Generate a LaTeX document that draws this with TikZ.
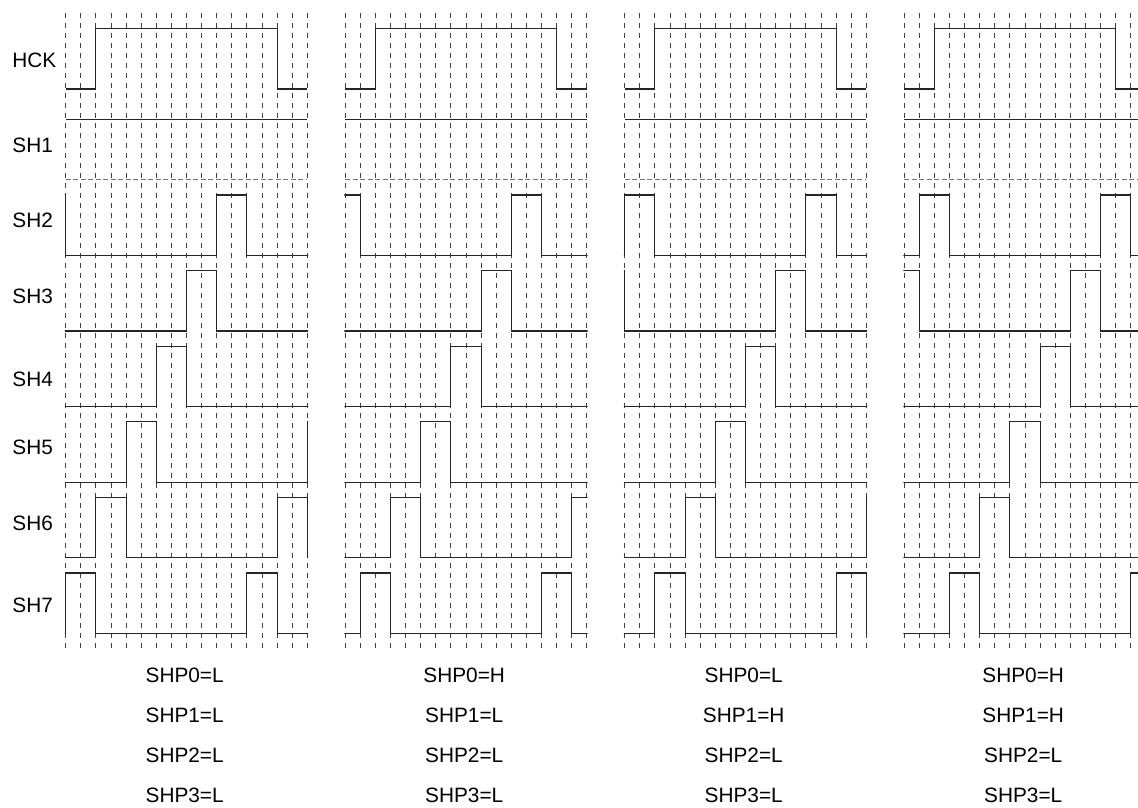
\documentclass[tikz,border=0pt]{standalone}
\usepackage{fontspec}
\setmainfont{Liberation Sans}
\tikzset{
  gridline/.style={black!75,line width=0.45pt,dash pattern=on 2.25pt off 2.75pt},
  sig/.style={black!85,line width=0.55pt},
  lowdash/.style={black!55,line width=0.5pt,dash pattern=on 2.5pt off 1.25pt},
  lbl/.style={inner sep=0pt,font=\fontsize{10.4}{12}\selectfont}
}
\begin{document}
\begin{tikzpicture}[x=0.5pt,y=-0.5pt]
  \useasboundingbox (0,0) rectangle (1138,807);
  \clip (0,0) rectangle (1138,807);
  \node[lbl,anchor=west] (hck) at (12,60.8) {HCK}; \node[lbl,anchor=west] (sh1) at (12,145.7) {SH1};
  \node[lbl,anchor=west] (sh2) at (12,220.5) {SH2}; \node[lbl,anchor=west] (sh3) at (12,296.7) {SH3};
  \node[lbl,anchor=west] (sh4) at (12,379.5) {SH4}; \node[lbl,anchor=west] (sh5) at (12,447.5) {SH5};
  \node[lbl,anchor=west] (sh6) at (12,523) {SH6}; \node[lbl,anchor=west] (sh7) at (12,605.5) {SH7};
  \foreach \p/\a/\b in {0/L/L,1/H/L,2/L/H,3/H/H}{
    \begin{scope}[xshift={32.85pt+139.75pt*\p},x=7.55pt]
      \foreach \i in {0,...,16} \draw[gridline] (\i,13.3) -- (\i,648);
      \draw[sig] (0,89) -- (2,89) -- (2,28.3) -- (14,28.3) -- (14,89) -- (16,89);
      \draw[sig] (0,119.4) -- (16,119.4); \draw[lowdash] (0,179.8) -- (16,179.8);
      \begin{scope}
        \clip (-0.05,0) rectangle (16.05,807);
        \foreach \k in {2,...,7}{
          \pgfmathsetmacro\yhi{195+75.6*(\k-2)}
          \pgfmathsetmacro\ylo{\yhi+60.4}
          \pgfmathsetmacro\base{mod(14-2*\k+\p,12)}
          \draw[sig] (\base-14,\ylo) \foreach \m in {-1,0,1}{ -- (\base+12*\m,\ylo) |- (\base+12*\m+2,\yhi) -- (\base+12*\m+2,\ylo)} -- (\base+26,\ylo);
        }
      \end{scope}
      \node[lbl] (shp0-\p) at (7.88,675.8) {SHP0=\a}; \node[lbl] (shp1-\p) at (7.88,715.7) {SHP1=\b};
      \node[lbl] (shp2-\p) at (7.88,755.6) {SHP2=L}; \node[lbl] (shp3-\p) at (7.88,795.5) {SHP3=L};
    \end{scope}
  }
\end{tikzpicture}
\end{document}
